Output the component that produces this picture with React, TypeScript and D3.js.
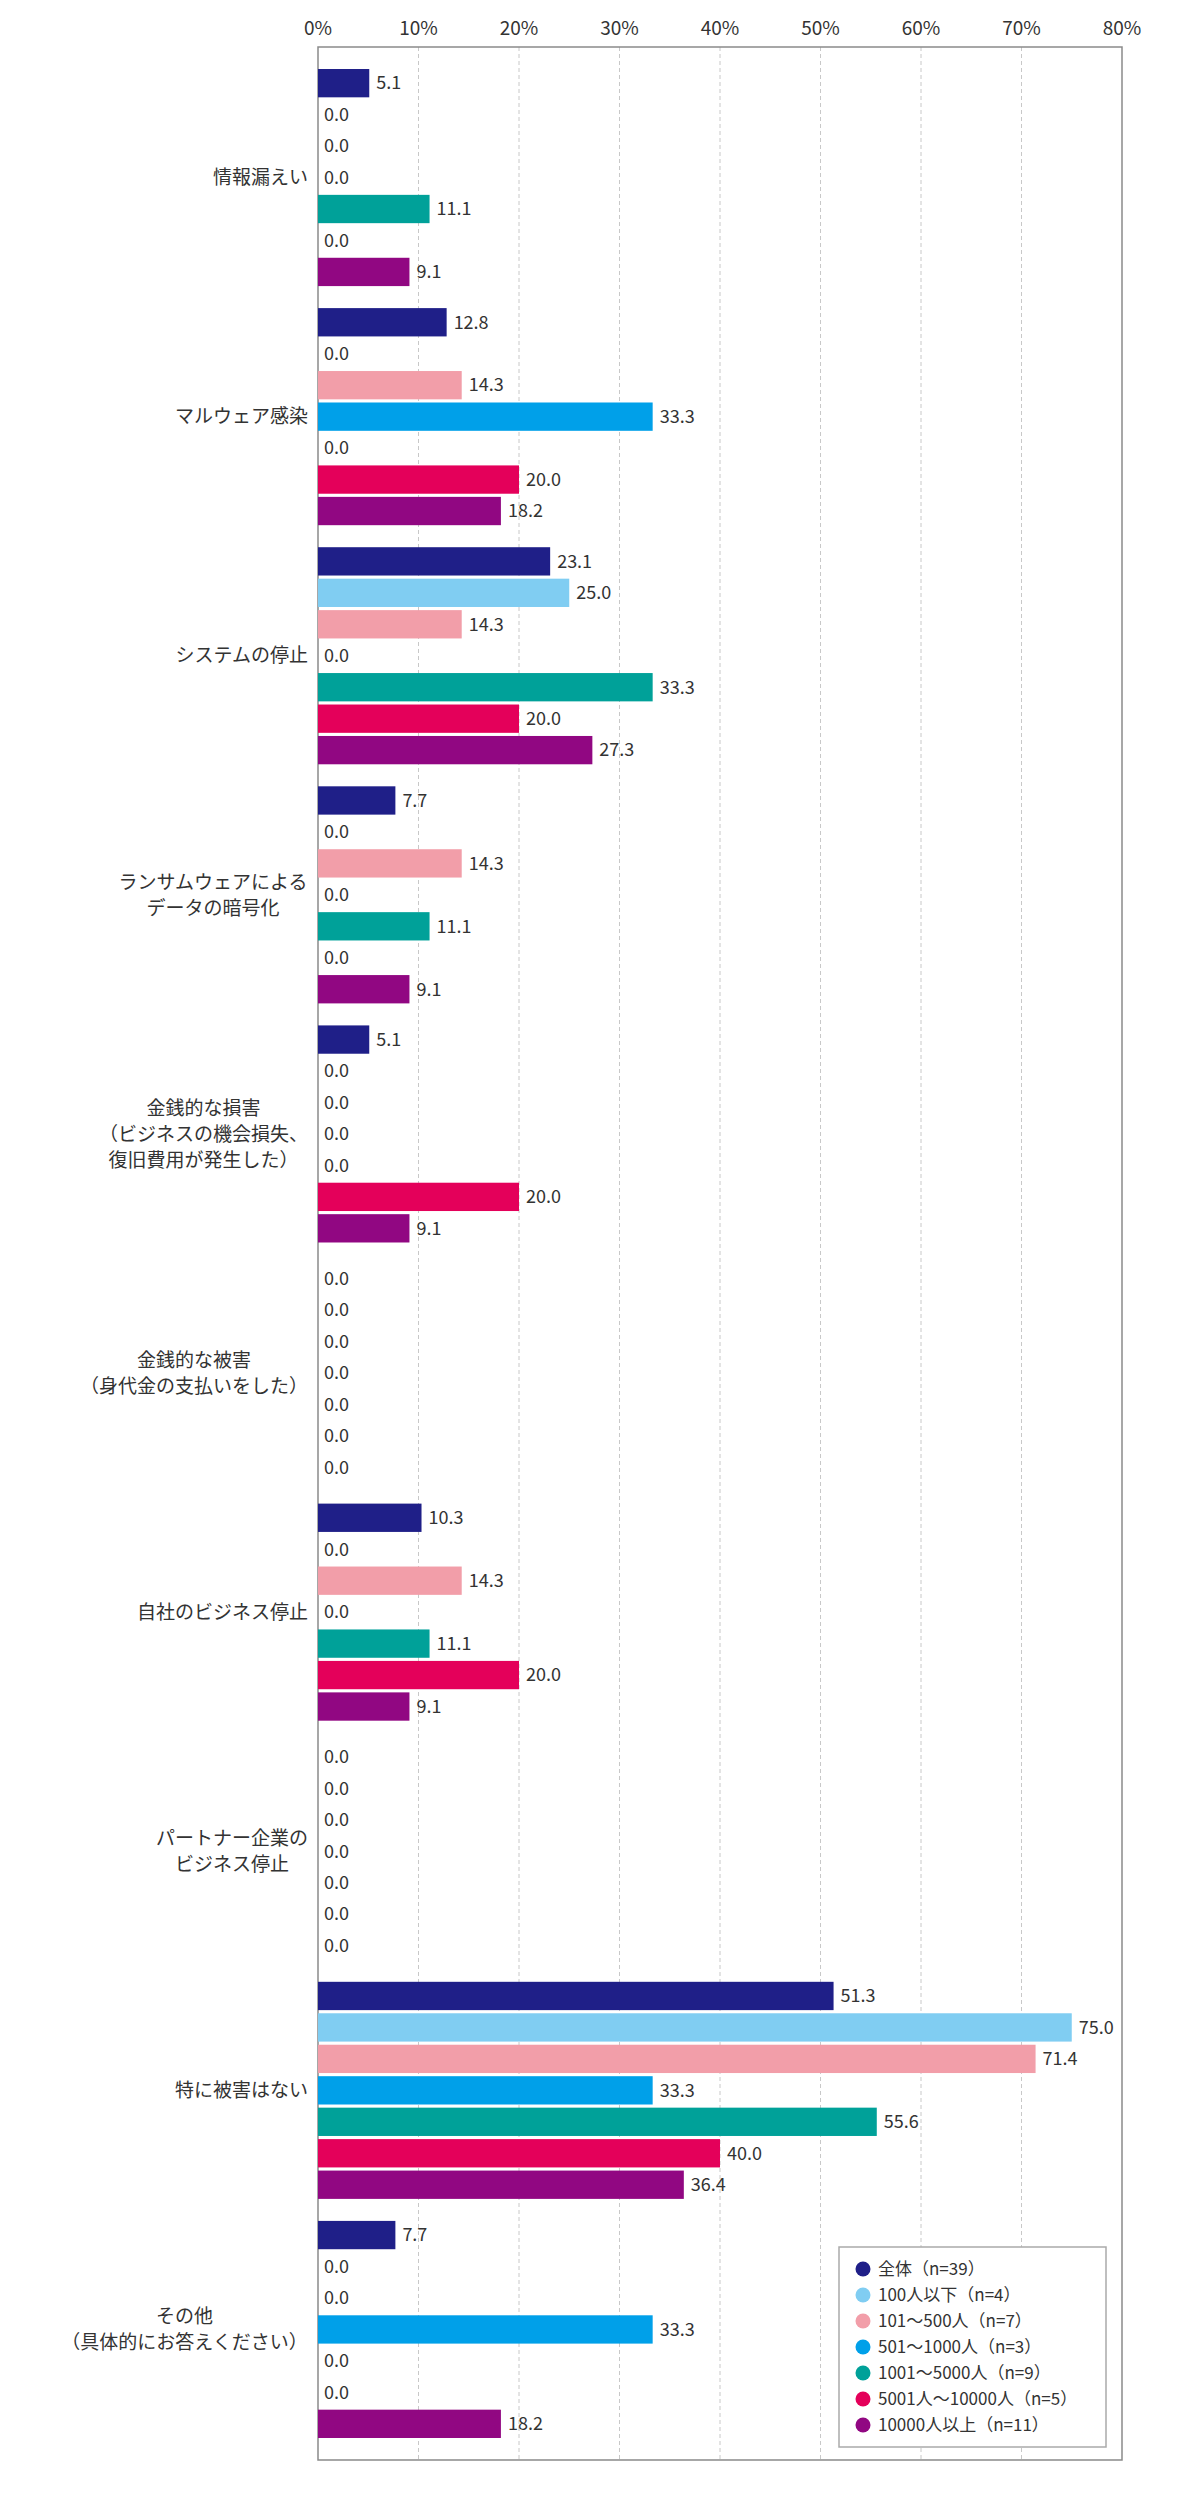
import React from "react";
import * as d3 from "d3";

const categories = [
  ["情報漏えい"],
  ["マルウェア感染"],
  ["システムの停止"],
  ["ランサムウェアによる", "データの暗号化"],
  ["金銭的な損害", "（ビジネスの機会損失、", "復旧費用が発生した）"],
  ["金銭的な被害", "（身代金の支払いをした）"],
  ["自社のビジネス停止"],
  ["パートナー企業の", "ビジネス停止"],
  ["特に被害はない"],
  ["その他", "（具体的にお答えください）"],
];

const seriesNames = [
  "全体（n=39）",
  "100人以下（n=4）",
  "101～500人（n=7）",
  "501～1000人（n=3）",
  "1001～5000人（n=9）",
  "5001人～10000人（n=5）",
  "10000人以上（n=11）",
];

const colors = ["#1f1f88", "#80cdf2", "#f29ea9", "#00a0e9", "#00a199", "#e4005a", "#910782"];

const values = [
  [5.1, 0, 0, 0, 11.1, 0, 9.1],
  [12.8, 0, 14.3, 33.3, 0, 20.0, 18.2],
  [23.1, 25.0, 14.3, 0, 33.3, 20.0, 27.3],
  [7.7, 0, 14.3, 0, 11.1, 0, 9.1],
  [5.1, 0, 0, 0, 0, 20.0, 9.1],
  [0, 0, 0, 0, 0, 0, 0],
  [10.3, 0, 14.3, 0, 11.1, 20.0, 9.1],
  [0, 0, 0, 0, 0, 0, 0],
  [51.3, 75.0, 71.4, 33.3, 55.6, 40.0, 36.4],
  [7.7, 0, 0, 33.3, 0, 0, 18.2],
];

const ticks = [0, 10, 20, 30, 40, 50, 60, 70, 80];

const font = "'Noto Sans CJK JP', 'Noto Sans', sans-serif";

export default function App() {
  const left = 318;
  const right = 1122;
  const top = 47;
  const bottom = 2460;

  const x = d3.scaleLinear().domain([0, 80]).range([left, right]);
  const g = d3
    .scaleBand<number>()
    .domain(d3.range(categories.length))
    .range([top + 11, bottom - 11]);
  const b = d3
    .scaleBand<number>()
    .domain(d3.range(7))
    .range([0, g.bandwidth()])
    .paddingInner(0.1)
    .paddingOuter(0.35);

  const fs = 19;
  const lh = 26;

  return (
    <svg
      width={1200}
      height={2500}
      style={{ position: "absolute", left: 0, top: 0, background: "#fff" }}
      fontFamily={font}
    >
      {ticks.map((t) => (
        <g key={t}>
          {t > 0 && t < 80 && (
            <line
              x1={x(t)}
              x2={x(t)}
              y1={top}
              y2={bottom}
              stroke="#c8c8c8"
              strokeDasharray="4,3"
            />
          )}
          <text x={x(t)} y={35} fontSize={19} textAnchor="middle" fill="#333">
            {t}%
          </text>
        </g>
      ))}
      <rect x={left} y={top} width={right - left} height={bottom - top} fill="none" stroke="#8a8a8a" strokeWidth={1.5} />

      {values.map((row, ci) => {
        const g0 = g(ci)!;
        const lines = categories[ci];
        const maxW = d3.max(lines, (l) => l.length * fs)!;
        const cx = lines.length > 1 ? left - 10 - maxW / 2 : left - 10;
        const cy = g0 + g.bandwidth() / 2 - ((lines.length - 1) * lh) / 2;
        return (
          <g key={ci}>
            {row.map((v, si) => {
              const y0 = g0 + b(si)!;
              return (
                <g key={si}>
                  {v > 0 && (
                    <rect x={x(0)} y={y0} width={x(v) - x(0)} height={b.bandwidth()} fill={colors[si]} />
                  )}
                  <text
                    x={x(v) + (v > 0 ? 7 : 6)}
                    y={y0 + b.bandwidth() / 2}
                    dy="0.35em"
                    fontSize={18}
                    fill="#333"
                  >
                    {v.toFixed(1)}
                  </text>
                </g>
              );
            })}
            {lines.map((l, li) => (
              <text
                key={li}
                x={cx}
                y={cy + li * lh}
                dy="0.35em"
                fontSize={fs}
                fill="#333"
                textAnchor={lines.length > 1 ? "middle" : "end"}
              >
                {l}
              </text>
            ))}
          </g>
        );
      })}

      <rect x={839} y={2247} width={267} height={200} fill="#fff" stroke="#aaa" strokeWidth={1.5} />
      {seriesNames.map((n, i) => (
        <g key={n}>
          <circle cx={863} cy={2269 + i * 26} r={7.5} fill={colors[i]} />
          <text x={878} y={2269 + i * 26} dy="0.35em" fontSize={17} fill="#333">
            {n}
          </text>
        </g>
      ))}
    </svg>
  );
}
